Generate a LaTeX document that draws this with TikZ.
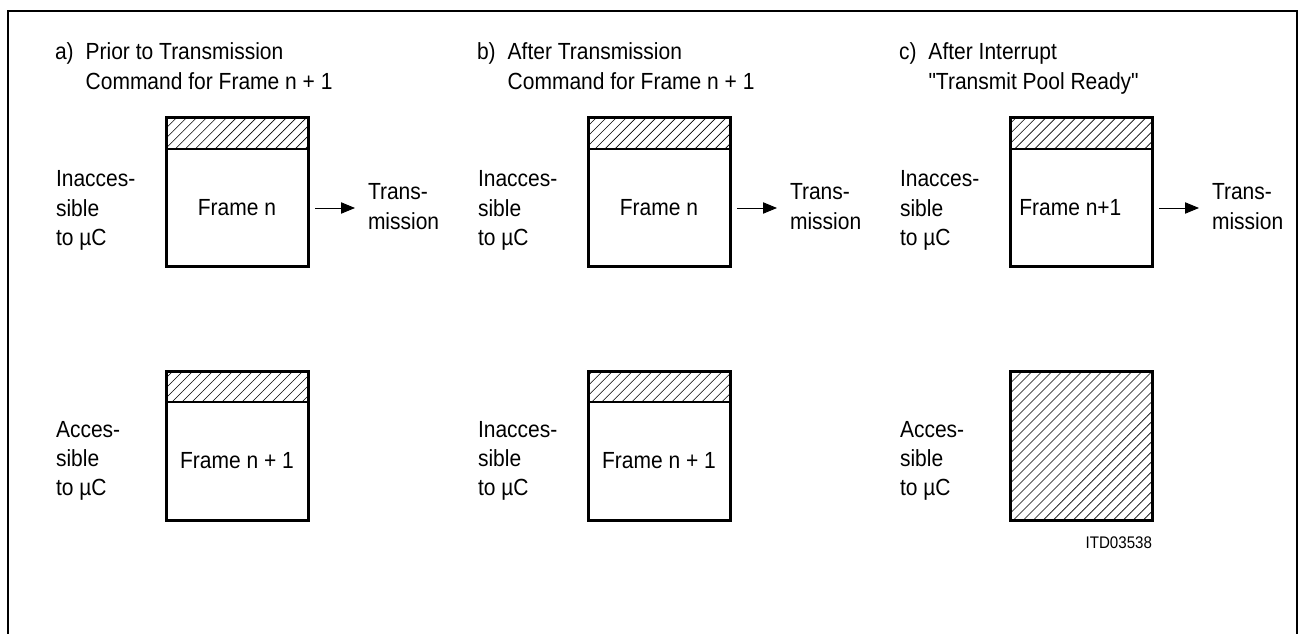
\documentclass[tikz,border=0pt]{standalone}
\usepackage{fontspec}
\newfontfamily\diafont{Liberation Sans}[FakeStretch=0.9]
\usetikzlibrary{positioning,arrows.meta,patterns.meta}
\newcommand{\txtlines}[1]{\begin{tabular}[t]{@{}l@{}}#1\end{tabular}}
\newcommand{\ttllines}[3]{\begin{tabular}[t]{@{}l@{\hspace{9pt}}l@{}}#1 & #2\\ & #3\end{tabular}}
\tikzset{
  txt/.style={inner sep=0pt, outer sep=0pt,
    font=\diafont\fontsize{17.5}{22}\selectfont},
  strip/.style={rectangle, inner sep=0pt, outer sep=0pt,
    minimum width=106.5pt, minimum height=23.25pt,
    pattern={Lines[angle=45,distance=5.3pt,line width=0.45pt]}},
  bodybox/.style={rectangle, inner sep=0pt, outer sep=0pt,
    minimum width=106.5pt, minimum height=88.5pt,
    font=\diafont\fontsize{17.5}{22}\selectfont},
  rim/.style={line width=2.25pt},
  sep/.style={line width=1.5pt},
  flow/.style={line width=0.7pt, -{Triangle[length=10.5pt,width=8.5pt]}}
}

\begin{document}
\begin{tikzpicture}[x=0.75pt,y=-0.75pt]
\useasboundingbox (0,0) rectangle (1298,634);
\draw[line width=1.5pt] (8,634) |- (1297,11) -- (1297,634);

% a) prior to transmission command
\node[txt, anchor=base west] (ttlA) at (55,60)
  {\ttllines{a)}{Prior to Transmission}{Command for Frame n + 1}};
\node[strip] (hatA1) at (237,133.5) {};
\node[bodybox, below=0pt of hatA1] (boxA1) {Frame n};
\draw[sep] (hatA1.south west) -- (hatA1.south east);
\draw[rim] (hatA1.north west) rectangle (boxA1.south east);
\node[strip] (hatA2) at (237,386.5) {};
\node[bodybox, below=0pt of hatA2] (boxA2) {Frame n + 1};
\draw[sep] (hatA2.south west) -- (hatA2.south east);
\draw[rim] (hatA2.north west) rectangle (boxA2.south east);
\node[txt, anchor=base west] (accA1) at (56,187) {\txtlines{Inacces-\\sible\\to µC}};
\node[txt, anchor=base west] (accA2) at (56,437) {\txtlines{Acces-\\sible\\to µC}};
\node[txt, anchor=base west] (trA) at (368,200) {\txtlines{Trans-\\mission}};
\draw[flow] ([xshift=5.25pt]boxA1.east) -- ([xshift=-9.75pt]boxA1.east -| trA.west);

% b) after transmission command
\node[txt, anchor=base west] (ttlB) at (477,60)
  {\ttllines{b)}{After Transmission}{Command for Frame n + 1}};
\node[strip] (hatB1) at (659,133.5) {};
\node[bodybox, below=0pt of hatB1] (boxB1) {Frame n};
\draw[sep] (hatB1.south west) -- (hatB1.south east);
\draw[rim] (hatB1.north west) rectangle (boxB1.south east);
\node[strip] (hatB2) at (659,386.5) {};
\node[bodybox, below=0pt of hatB2] (boxB2) {Frame n + 1};
\draw[sep] (hatB2.south west) -- (hatB2.south east);
\draw[rim] (hatB2.north west) rectangle (boxB2.south east);
\node[txt, anchor=base west] (accB1) at (478,187) {\txtlines{Inacces-\\sible\\to µC}};
\node[txt, anchor=base west] (accB2) at (478,437) {\txtlines{Inacces-\\sible\\to µC}};
\node[txt, anchor=base west] (trB) at (790,200) {\txtlines{Trans-\\mission}};
\draw[flow] ([xshift=5.25pt]boxB1.east) -- ([xshift=-9.75pt]boxB1.east -| trB.west);

% c) after interrupt
\node[txt, anchor=base west] (ttlC) at (899,60)
  {\ttllines{c)}{After Interrupt}{"Transmit Pool Ready"}};
\node[strip] (hatC1) at (1081,133.5) {};
\node[bodybox, below=0pt of hatC1] (boxC1) {Frame n+1\hspace*{16pt}};
\draw[sep] (hatC1.south west) -- (hatC1.south east);
\draw[rim] (hatC1.north west) rectangle (boxC1.south east);
\node[strip, minimum height=111.75pt] (hatC2) at (1081,445.5) {};
\draw[rim] (hatC2.north west) rectangle (hatC2.south east);
\node[txt, anchor=base west] (accC1) at (900,187) {\txtlines{Inacces-\\sible\\to µC}};
\node[txt, anchor=base west] (accC2) at (900,437) {\txtlines{Acces-\\sible\\to µC}};
\node[txt, anchor=base west] (trC) at (1212,200) {\txtlines{Trans-\\mission}};
\draw[flow] ([xshift=5.25pt]boxC1.east) -- ([xshift=-9.75pt]boxC1.east -| trC.west);

\node[txt, font=\diafont\fontsize{12.6}{15}\selectfont, anchor=base east] (itd) at (1152,548) {ITD03538};
\end{tikzpicture}
\end{document}
